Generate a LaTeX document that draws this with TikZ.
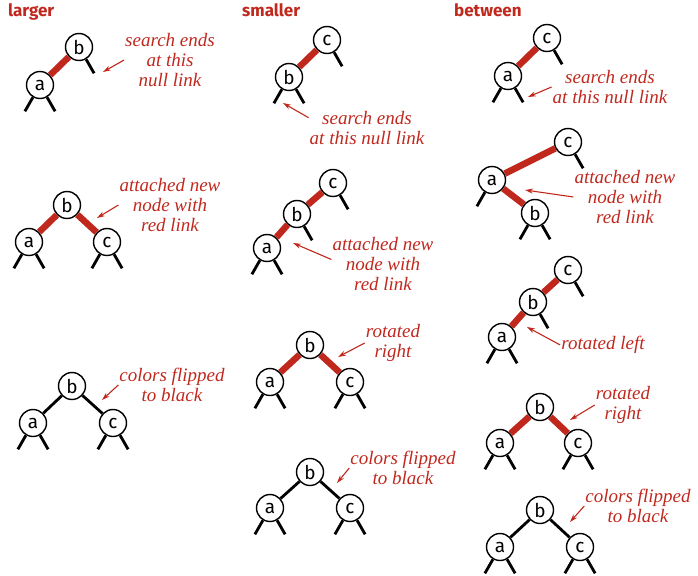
\documentclass[tikz,border=0pt]{standalone}
\usepackage{fontspec}
\setmainfont{Liberation Serif}
\setsansfont{Fira Sans}
\usetikzlibrary{arrows.meta}
\definecolor{rosso}{RGB}{192,40,30}
\tikzset{
  nodo/.style={circle,draw,line width=1.4pt,fill=white,minimum size=27pt,inner sep=0pt,
    font=\sffamily\fontsize{19}{19}\selectfont},
  linkrosso/.style={draw=rosso,line width=6.5pt},
  linknero/.style={draw=black,line width=2.8pt},
  nullo/.style={draw=black,line width=2.8pt},
  nota/.style={text=rosso,align=center,inner sep=1pt,font=\itshape\fontsize{19}{20}\selectfont},
  freccia/.style={-{Stealth[length=8pt,width=5pt]},draw=rosso,line width=1.1pt},
  titolo/.style={text=rosso,anchor=base west,inner sep=0pt,font=\sffamily\bfseries\fontsize{17}{17}\selectfont}
}
\begin{document}
\begin{tikzpicture}[x=1pt,y=-1pt]
    \useasboundingbox (0,0) rectangle (698,575);
    % titoli
    \node[titolo] (Lt) at (8,17) {larger};
    \node[titolo] (St) at (242,17) {smaller};
    \node[titolo] (Bt) at (454,17) {between};

    % colonna larger
    \node[nodo] (L1b) at (79,47) {b};
    \node[nodo] (L1a) at (40,85) {a};
    \draw[linkrosso] (L1b) -- (L1a);
    \node[nota] (L1n) at (170,60) {search ends\\at this\\null link};
    \coordinate (L1p) at (103,72);

    \node[nodo] (L2b) at (67,205) {b};
    \node[nodo] (L2a) at (29,242) {a};
    \node[nodo] (L2c) at (107,242) {c};
    \draw[linkrosso] (L2b) -- (L2a);
    \draw[linkrosso] (L2b) -- (L2c);
    \node[nota] (L2n) at (170,205) {attached new\\node with\\red link};
    \coordinate (L2p) at (97,218);

    \node[nodo] (L3b) at (72,386) {b};
    \node[nodo] (L3a) at (33,423) {a};
    \node[nodo] (L3c) at (113,423) {c};
    \draw[linknero] (L3b) -- (L3a);
    \draw[linknero] (L3b) -- (L3c);
    \node[nota] (L3n) at (172,385) {colors flipped\\to black};
    \coordinate (L3p) at (102,400);

    % colonna smaller
    \node[nodo] (S1c) at (327,40) {c};
    \node[nodo] (S1b) at (289,77) {b};
    \draw[linkrosso] (S1c) -- (S1b);
    \node[nota] (S1n) at (367,128) {search ends\\at this null link};
    \coordinate (S1p) at (283,103);

    \node[nodo] (S2c) at (333,183) {c};
    \node[nodo] (S2b) at (297,214) {b};
    \node[nodo] (S2a) at (267,248) {a};
    \draw[linkrosso] (S2c) -- (S2b);
    \draw[linkrosso] (S2b) -- (S2a);
    \node[nota] (S2n) at (383,264) {attached new\\node with\\red link};
    \coordinate (S2p) at (293,243);

    \node[nodo] (S3b) at (310,345) {b};
    \node[nodo] (S3a) at (270,382) {a};
    \node[nodo] (S3c) at (350,382) {c};
    \draw[linkrosso] (S3b) -- (S3a);
    \draw[linkrosso] (S3b) -- (S3c);
    \node[nota] (S3n) at (393,343) {rotated\\right};
    \coordinate (S3p) at (338,357);

    \node[nodo] (S4b) at (310,472) {b};
    \node[nodo] (S4a) at (270,508) {a};
    \node[nodo] (S4c) at (350,508) {c};
    \draw[linknero] (S4b) -- (S4a);
    \draw[linknero] (S4b) -- (S4c);
    \node[nota] (S4n) at (403,468) {colors flipped\\to black};
    \coordinate (S4p) at (337,483);

    % colonna between
    \node[nodo] (B1c) at (547,38) {c};
    \node[nodo] (B1a) at (508,76) {a};
    \draw[linkrosso] (B1c) -- (B1a);
    \node[nota] (B1n) at (610,87) {search ends\\at this null link};
    \coordinate (B1p) at (528,97);

    \node[nodo] (B2c) at (568,142) {c};
    \node[nodo] (B2a) at (492,180) {a};
    \node[nodo] (B2b) at (535,213) {b};
    \draw[linkrosso] (B2a) -- (B2c);
    \draw[linkrosso] (B2a) -- (B2b);
    \node[nota] (B2n) at (625,197) {attached new\\node with\\red link};
    \coordinate (B2p) at (525,190);

    \node[nodo] (B3c) at (568,270) {c};
    \node[nodo] (B3b) at (533,302) {b};
    \node[nodo] (B3a) at (502,337) {a};
    \draw[linkrosso] (B3c) -- (B3b);
    \draw[linkrosso] (B3b) -- (B3a);
    \node[nota] (B3n) at (603,345) {rotated left};
    \coordinate (B3p) at (527,327);

    \node[nodo] (B4b) at (540,407) {b};
    \node[nodo] (B4a) at (500,443) {a};
    \node[nodo] (B4c) at (578,443) {c};
    \draw[linkrosso] (B4b) -- (B4a);
    \draw[linkrosso] (B4b) -- (B4c);
    \node[nota] (B4n) at (623,405) {rotated\\right};
    \coordinate (B4p) at (570,420);

    \node[nodo] (B5b) at (540,510) {b};
    \node[nodo] (B5a) at (500,547) {a};
    \node[nodo] (B5c) at (580,547) {c};
    \draw[linknero] (B5b) -- (B5a);
    \draw[linknero] (B5b) -- (B5c);
    \node[nota] (B5n) at (638,506) {colors flipped\\to black};
    \coordinate (B5p) at (570,522);

    % link nulli
    \foreach \n in {L1a,L2a,L2c,L3a,L3c,S1b,S2a,S3a,S3c,S4a,S4c,B1a,B2a,B2b,B3a,B4a,B4c,B5a,B5c}
        \draw[nullo] (\n.240) -- ++(-8,14);
    \foreach \n in {L1b,L1a,L2a,L2c,L3a,L3c,S1c,S1b,S2c,S2b,S2a,S3a,S3c,S4a,S4c,B1c,B1a,B2c,B2b,B3c,B3b,B3a,B4a,B4c,B5a,B5c}
        \draw[nullo] (\n.300) -- ++(8,14);

    % frecce
    \foreach \n in {L1,L2,L3,S3,S4,B1,B2,B3,B4,B5}
        \draw[freccia] (\n n.west) -- (\n p);
    \draw[freccia] (S1n.170) -- (S1p);
    \draw[freccia] (S2n.175) -- (S2p);
\end{tikzpicture}
\end{document}
